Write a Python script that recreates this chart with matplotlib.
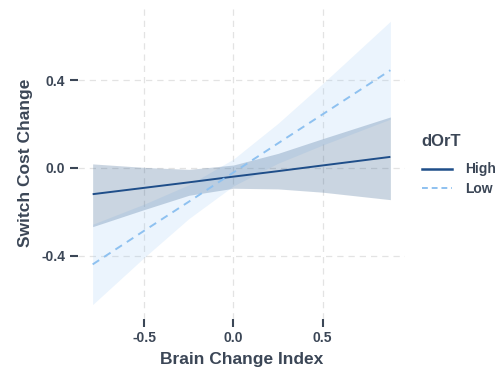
import matplotlib
matplotlib.use("Agg")
import matplotlib.pyplot as plt
from matplotlib.lines import Line2D

# Fitted lines with confidence ribbons by dOrT group
x_pts = [-0.79, -0.5, -0.25, 0.0, 0.25, 0.5, 0.88]

high_fit = [-0.120, -0.091, -0.066, -0.040, -0.015, 0.011, 0.050]
high_lo = [-0.268, -0.190, -0.125, -0.093, -0.096, -0.111, -0.145]
high_hi = [0.018, 0.002, -0.007, 0.013, 0.066, 0.133, 0.232]

low_fit = [-0.440, -0.286, -0.154, -0.021, 0.112, 0.244, 0.445]
low_lo = [-0.623, -0.408, -0.231, -0.082, 0.021, 0.104, 0.222]
low_hi = [-0.257, -0.165, -0.077, 0.040, 0.203, 0.384, 0.668]

groups = ["High", "Low"]
x_ticks = [-0.5, 0.0, 0.5]
y_ticks = [-0.4, 0.0, 0.4]

plt.rcParams["font.family"] = ["Liberation Sans", "DejaVu Sans"]
text_col = "#3b4656"

fig = plt.figure(figsize=(4.99, 3.69), dpi=100)
ax = fig.add_axes([0.156, 0.136, 0.656, 0.845])

ax.fill_between(x_pts, low_lo, low_hi, color="#9cc9f5", alpha=0.2, linewidth=0)
ax.fill_between(x_pts, high_lo, high_hi, color="#2e5a8a", alpha=0.25, linewidth=0)
ax.plot(x_pts, high_fit, color="#1f4e89", lw=1.4, solid_capstyle="butt")
ax.plot(x_pts, low_fit, color="#8ec1f0", lw=1.4, ls=(0, (4, 3)))

ax.set_xlim(-0.873, 0.963)
ax.set_ylim(-0.688, 0.733)
ax.set_xticks(x_ticks)
ax.set_yticks(y_ticks)
ax.set_xticklabels([f"{v:.1f}" for v in x_ticks])
ax.set_yticklabels([f"{v:.1f}" for v in y_ticks])
ax.grid(True, color="#e3e3e3", ls=(0, (5, 4)), lw=0.9)
ax.set_axisbelow(True)
for s in ax.spines.values():
    s.set_visible(False)
ax.tick_params(axis="both", length=6, width=1.5, color=text_col,
               labelcolor=text_col, labelsize=10, pad=3)
for lab in ax.get_xticklabels() + ax.get_yticklabels():
    lab.set_fontweight("bold")

ax.set_xlabel("Brain Change Index", fontsize=12.5, fontweight="bold",
              color=text_col, labelpad=5)
ax.set_ylabel("Switch Cost Change", fontsize=12.5, fontweight="bold",
              color=text_col, labelpad=6)

handles = [Line2D([], [], color="#1f4e89", lw=1.8),
           Line2D([], [], color="#8ec1f0", lw=1.4, ls=(0, (3, 2)))]
leg = fig.legend(handles, groups, title="dOrT", loc="upper left",
                 bbox_to_anchor=(0.82, 0.67), frameon=False,
                 handlelength=2.2, handletextpad=0.9, labelspacing=0.4,
                 prop={"weight": "bold", "size": 10})
leg.get_title().set_fontweight("bold")
leg.get_title().set_fontsize(12)
leg.get_title().set_color(text_col)
leg._legend_box.align = "left"
leg._legend_box.sep = 9.5
for t in leg.get_texts():
    t.set_color(text_col)

fig.savefig("out.png", dpi=100)
